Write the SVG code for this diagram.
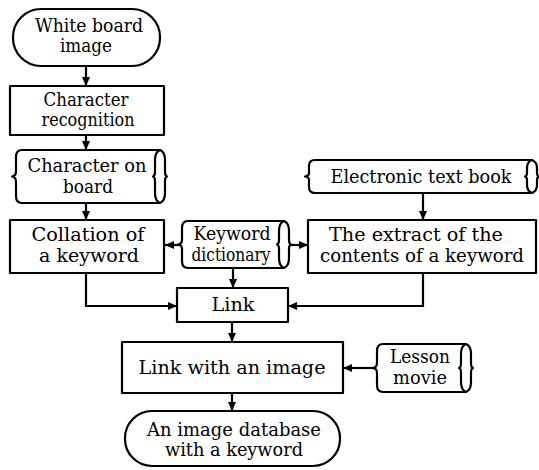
<svg xmlns="http://www.w3.org/2000/svg" width="539" height="470" viewBox="0 0 539 470">
  <style>
    .shape { fill: #fff; stroke: #000; stroke-width: 2.2; stroke-linejoin: round; }
    .edge { fill: none; stroke: #000; stroke-width: 2.2; }
    .lbl { font-family: "DejaVu Serif", serif; font-size: 19px; fill: #000; text-anchor: middle; }
  </style>
  <defs>
    <marker id="arrow" markerUnits="userSpaceOnUse" markerWidth="10" markerHeight="10" refX="9" refY="5" orient="auto">
      <path d="M0,1 L9,5 L0,9 Z" fill="#000"/>
    </marker>
  </defs>

  <!-- connectors -->
  <g id="connectors" class="edge" marker-end="url(#arrow)">
    <line x1="86" y1="66" x2="86" y2="86"/>
    <line x1="86" y1="135" x2="86" y2="150"/>
    <line x1="86" y1="203" x2="86" y2="220"/>
    <line x1="180" y1="245" x2="165" y2="245"/>
    <line x1="291" y1="245" x2="308" y2="245"/>
    <line x1="233" y1="268" x2="233" y2="288"/>
    <line x1="423" y1="193" x2="423" y2="220"/>
    <polyline points="86,273 86,306 177,306"/>
    <polyline points="423,273 423,306 288,306"/>
    <line x1="232" y1="322" x2="232" y2="342"/>
    <line x1="375" y1="368" x2="343" y2="368"/>
    <line x1="232" y1="393" x2="232" y2="411"/>
  </g>

  <!-- terminal: white board image -->
  <g id="whiteboard">
    <rect class="shape" x="13" y="9" width="147" height="57" rx="28" ry="28"/>
    <text class="lbl" x="89" y="32" textLength="108" lengthAdjust="spacingAndGlyphs">White board</text>
    <text class="lbl" x="86" y="52" textLength="52" lengthAdjust="spacingAndGlyphs">image</text>
  </g>

  <g id="recognition">
    <rect class="shape" x="10" y="86" width="154" height="49"/>
    <text class="lbl" x="86" y="106" textLength="85" lengthAdjust="spacingAndGlyphs">Character</text>
    <text class="lbl" x="88" y="126" textLength="93" lengthAdjust="spacingAndGlyphs">recognition</text>
  </g>

  <!-- stored data: character on board -->
  <g id="onboard">
    <path class="shape" d="M22,150 L160,150 L160,203 L22,203 Q16,203 16,196 L16,182 Q16,177 12,176.5 Q16,176 16,171 L16,157 Q16,150 22,150 Z"/>
    <path class="shape" d="M160,150 Q155,152 155,160 L155,172 Q155,176 153,176.5 Q155,177 155,181 L155,193 Q155,201 160,203 Q165,201 165,193 L165,181 Q165,177 167,176.5 Q165,176 165,172 L165,160 Q165,152 160,150 Z"/>
    <text class="lbl" x="87" y="172" textLength="119" lengthAdjust="spacingAndGlyphs">Character on</text>
    <text class="lbl" x="88" y="193" textLength="50" lengthAdjust="spacingAndGlyphs">board</text>
  </g>

  <g id="collation">
    <rect class="shape" x="10" y="220" width="154" height="53"/>
    <text class="lbl" x="88" y="241" textLength="113" lengthAdjust="spacingAndGlyphs">Collation of</text>
    <text class="lbl" x="89" y="262" textLength="100" lengthAdjust="spacingAndGlyphs">a keyword</text>
  </g>

  <!-- stored data: keyword dictionary -->
  <g id="dictionary">
    <path class="shape" d="M188,221 L284,221 L284,268 L188,268 Q182,268 182,261 L182,249 Q182,245 178,244.5 Q182,244 182,240 L182,228 Q182,221 188,221 Z"/>
    <path class="shape" d="M284,221 Q279,223 279,231 L279,240 Q279,244 277,244.5 Q279,245 279,249 L279,258 Q279,266 284,268 Q289,266 289,258 L289,249 Q289,245 291,244.5 Q289,244 289,240 L289,231 Q289,223 284,221 Z"/>
    <text class="lbl" x="232" y="240" font-size="18" textLength="77" lengthAdjust="spacingAndGlyphs">Keyword</text>
    <text class="lbl" x="231" y="261" font-size="18" textLength="79" lengthAdjust="spacingAndGlyphs">dictionary</text>
  </g>

  <!-- stored data: electronic text book -->
  <g id="textbook">
    <path class="shape" d="M315,160 L532,160 L532,193 L315,193 Q309,193 309,187 L309,180 Q309,177 305,176.5 Q309,176 309,173 L309,166 Q309,160 315,160 Z"/>
    <path class="shape" d="M532,160 Q527,162 527,168 L527,173 Q527,176 525,176.5 Q527,177 527,180 L527,185 Q527,191 532,193 Q537,191 537,185 L537,180 Q537,177 539,176.5 Q537,176 537,173 L537,168 Q537,162 532,160 Z"/>
    <text class="lbl" x="421" y="183" textLength="181" lengthAdjust="spacingAndGlyphs">Electronic text book</text>
  </g>

  <g id="extract">
    <rect class="shape" x="308" y="220" width="228" height="53"/>
    <text class="lbl" x="416" y="241" textLength="174" lengthAdjust="spacingAndGlyphs">The extract of the</text>
    <text class="lbl" x="422" y="262" textLength="204" lengthAdjust="spacingAndGlyphs">contents of a keyword</text>
  </g>

  <g id="link">
    <rect class="shape" x="177" y="288" width="111" height="34"/>
    <text class="lbl" x="233" y="311" textLength="43" lengthAdjust="spacingAndGlyphs">Link</text>
  </g>

  <g id="linkimage">
    <rect class="shape" x="122" y="342" width="221" height="51"/>
    <text class="lbl" x="232" y="374" textLength="187" lengthAdjust="spacingAndGlyphs">Link with an image</text>
  </g>

  <!-- stored data: lesson movie -->
  <g id="lesson">
    <path class="shape" d="M383,344 L466,344 L466,392 L383,392 Q377,392 377,385 L377,373 Q377,368.5 373,368 Q377,367.5 377,363 L377,351 Q377,344 383,344 Z"/>
    <path class="shape" d="M466,344 Q461,346 461,354 L461,363 Q461,367.5 459,368 Q461,368.5 461,373 L461,382 Q461,390 466,392 Q471,390 471,382 L471,373 Q471,368.5 473,368 Q471,367.5 471,363 L471,354 Q471,346 466,344 Z"/>
    <text class="lbl" x="420" y="363" textLength="60" lengthAdjust="spacingAndGlyphs">Lesson</text>
    <text class="lbl" x="420" y="384" textLength="54" lengthAdjust="spacingAndGlyphs">movie</text>
  </g>

  <!-- terminal: image database -->
  <g id="database">
    <rect class="shape" x="125" y="411" width="215" height="55" rx="27" ry="27"/>
    <text class="lbl" x="234" y="436" textLength="174" lengthAdjust="spacingAndGlyphs">An image database</text>
    <text class="lbl" x="234" y="456" textLength="138" lengthAdjust="spacingAndGlyphs">with a keyword</text>
  </g>
</svg>
